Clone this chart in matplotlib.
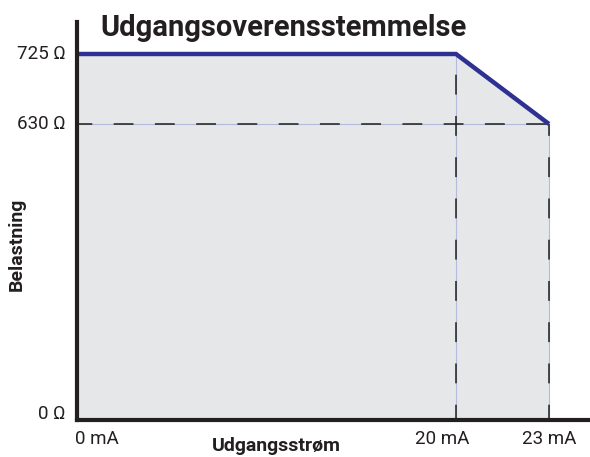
import numpy as np
import matplotlib
matplotlib.use("Agg")
import matplotlib.pyplot as plt

# ---- data ----
current_ma = [0, 20, 23]            # x values (mA)
load_ohm = [725, 725, 630]          # max load (Ohm)
x_ticks = [0, 20, 23]
x_tick_labels = ["0 mA", "20 mA", "23 mA"]
y_ticks = [0, 630, 725]
y_tick_labels = ["0 Ω", "630 Ω", "725 Ω"]
title = "Udgangsoverensstemmelse"
xlabel = "Udgangsstrøm"
ylabel = "Belastning"

# ---- non-linear (schematic) axis scales ----
xk_d = np.array([0, 20, 23, 30], float)
xk_p = np.array([0, 379, 472, 689], float)
yk_d = np.array([0, 630, 725, 1000], float)
yk_p = np.array([0, 296, 366, 568.6], float)

def xf(v): return np.interp(v, xk_d, xk_p)
def xi(v): return np.interp(v, xk_p, xk_d)
def yf(v): return np.interp(v, yk_d, yk_p)
def yi(v): return np.interp(v, yk_p, yk_d)

plt.rcParams['font.family'] = ['Roboto', 'DejaVu Sans']

W, H = 590, 457
fig = plt.figure(figsize=(W/100, H/100), dpi=100)
ax = fig.add_axes([77/W, (H-420)/H, (W-77)/W, (420-22)/H])
ax.set_xscale('function', functions=(xf, xi))
ax.set_yscale('function', functions=(yf, yi))
ax.set_xlim(0, xi(513))
ax.set_ylim(0, yi(398))

blue = '#2e3192'
fillc = '#e6e7e9'
lblue = '#b3bbdc'
dash = '#1e1e1e'

ax.fill_between(current_ma, load_ohm, 0, color=fillc, lw=0, zorder=1)

# reference lines (light blue underline + black dashes)
x20, x23 = current_ma[1], current_ma[2]
y725, y630 = load_ohm[1], load_ohm[2]
ls = (3, (13, 14))
for xs, ys in [([0, x23], [y630, y630]), ([x20, x20], [0, y725]), ([x23, x23], [0, y630])]:
    ax.plot(xs, ys, color=lblue, lw=0.8, zorder=2, solid_capstyle='butt')
    ax.plot(xs, ys, color=dash, lw=1.1, ls=ls, zorder=3, dash_capstyle='butt')

ax.plot(current_ma, load_ohm, color=blue, lw=3.2, zorder=4, solid_capstyle='butt',
        solid_joinstyle='miter')

for s in ['top', 'right']:
    ax.spines[s].set_visible(False)
for s in ['left', 'bottom']:
    ax.spines[s].set_linewidth(3)
    ax.spines[s].set_color('#231f20')
    ax.spines[s].set_zorder(5)
ax.set_xticks([])
ax.set_yticks([])

tcol = '#231f20'
fs = 13.5
# x tick labels
xoff = [(-2, 'left'), (13, 'right'), (0, 'center')]
for xv, lab, (dx, ha) in zip(x_ticks, x_tick_labels, xoff):
    ax.annotate(lab, xy=(xv, 0), xycoords=ax.get_xaxis_transform(),
                xytext=(dx * 0.72, -7), textcoords='offset points',
                ha=ha, va='top', fontsize=fs, color=tcol, annotation_clip=False)
# y tick labels
yoff = [6, 0, 0]
for yv, lab, dy in zip(y_ticks, y_tick_labels, yoff):
    ax.annotate(lab, xy=(0, yv), xycoords=ax.get_yaxis_transform(),
                xytext=(-8, dy * 0.72), textcoords='offset points',
                ha='right', va='center', fontsize=fs, color=tcol, annotation_clip=False)

fig.text(284/W, (H-36)/H, title, ha='center', va='baseline', fontsize=21,
         fontweight='bold', color=tcol)
fig.text(276/W, (H-451)/H, xlabel, ha='center', va='baseline', fontsize=14,
         fontweight='bold', color=tcol)
fig.text(17/W, (H-244)/H, ylabel, ha='center', va='center', rotation=90,
         fontsize=14, fontweight='bold', color=tcol)

fig.savefig('out.png', dpi=100)
